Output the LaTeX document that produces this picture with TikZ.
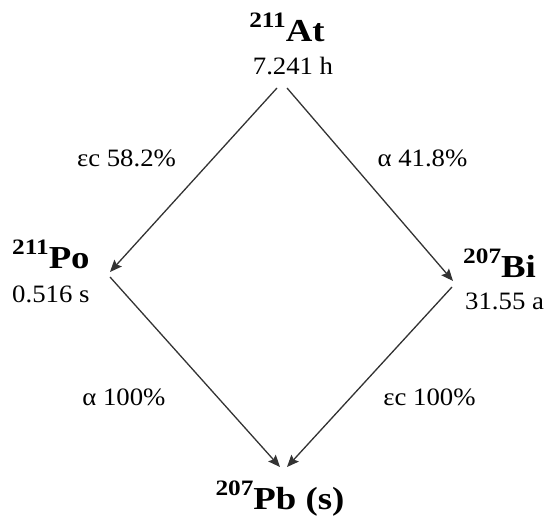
\documentclass[tikz,border=0pt]{standalone}
\usepackage{fontspec}
\setmainfont[FakeStretch=1.07]{Liberation Serif}
\newfontfamily\nucfont[FakeStretch=1.15]{Liberation Serif}
\usetikzlibrary{arrows.meta}
\newcommand{\nucl}[2]{\raisebox{0.45em}{\fontsize{22}{22}\selectfont #1}#2}
\begin{document}
\begin{tikzpicture}[x=1pt,y=1pt,
  nuclide/.style={font=\nucfont\fontsize{32}{34}\selectfont\bfseries, inner sep=0, anchor=base},
  halflife/.style={font=\fontsize{25}{28}\selectfont, inner sep=0, anchor=base},
  branch/.style={font=\fontsize{25}{28}\selectfont, inner sep=0, anchor=base},
  decay/.style={draw=black!80, line width=1.3pt, -{Stealth[length=12pt,width=10pt,inset=2pt]}}]
\useasboundingbox (0,0) rectangle (549,522);
% nuclides
\node[nuclide] (at) at (287,480) {\nucl{211}{At}};
\node[halflife] (att) at (293,447) {7.241 h};
\node[nuclide, anchor=base west] (po) at (12,253) {\nucl{211}{Po}};
\node[halflife, anchor=base west] (pot) at (12,219) {0.516 s};
\node[nuclide, anchor=base west] (bi) at (463,244) {\nucl{207}{Bi}};
\node[halflife, anchor=base west] (bit) at (465,212) {31.55 a};
\node[nuclide] (pb) at (280,12) {\nucl{207}{Pb (s)}};
% branch labels
\node[branch] (l1) at (126.5,355) {εc 58.2\%};
\node[branch] (l2) at (422.5,355) {α 41.8\%};
\node[branch] (l3) at (124,116) {α 100\%};
\node[branch] (l4) at (429.5,116) {εc 100\%};
% connector ends
\coordinate (atL) at (277,434);
\coordinate (atR) at (287,434);
\coordinate (poIn) at (110,250);
\coordinate (poOut) at (110,245);
\coordinate (biIn) at (453,241);
\coordinate (biOut) at (452,235);
\coordinate (pbL) at (280,55);
\coordinate (pbR) at (287,55);
\draw[decay] (atL) -- (poIn);
\draw[decay] (atR) -- (biIn);
\draw[decay] (poOut) -- (pbL);
\draw[decay] (biOut) -- (pbR);
\end{tikzpicture}
\end{document}
